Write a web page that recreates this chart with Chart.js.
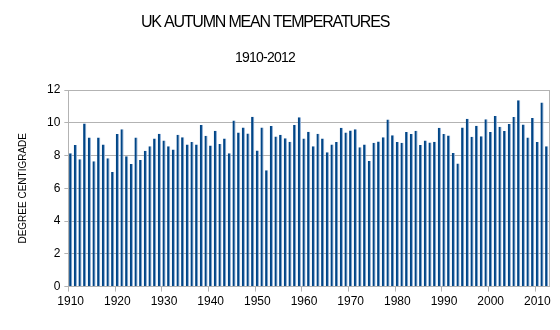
<!DOCTYPE html>
<html>
<head>
<meta charset="utf-8">
<title>UK Autumn Mean Temperatures</title>
<script src="https://cdn.jsdelivr.net/npm/chart.js@4/dist/chart.umd.min.js"></script>
<style>
  html, body { margin: 0; padding: 0; background: #fff; }
  #wrap { width: 560px; height: 330px; position: relative; }
</style>
</head>
<body>
<div id="wrap"><canvas id="autumnChart"></canvas></div>
<script>
// one bar per autumn, 1910 .. 2012
var years = Array.from({ length: 103 }, function (_, i) { return String(1910 + i); });

var meanTemps = [
  8.14, 8.65, 7.78, 9.96, 9.10, 7.65, 9.10, 8.67, 7.84, 7.00,
  9.31, 9.61, 7.96, 7.49, 9.10, 7.73, 8.29, 8.57, 9.04, 9.33,
  8.92, 8.57, 8.37, 9.27, 9.12, 8.67, 8.82, 8.67, 9.86, 9.20,
  8.61, 9.51, 8.71, 9.04, 8.14, 10.14, 9.41, 9.71, 9.35, 10.37,
  8.31, 9.71, 7.10, 9.80, 9.16, 9.27, 9.06, 8.84, 9.86, 10.33,
  9.04, 9.45, 8.57, 9.33, 9.04, 8.20, 8.67, 8.82, 9.69, 9.41,
  9.53, 9.61, 8.51, 8.67, 7.67, 8.78, 8.86, 9.12, 10.20, 9.24,
  8.82, 8.78, 9.43, 9.31, 9.51, 8.65, 8.92, 8.80, 8.84, 9.69,
  9.31, 9.22, 8.16, 7.51, 9.71, 10.24, 9.14, 9.82, 9.18, 10.22,
  9.43, 10.41, 9.76, 9.49, 9.92, 10.35, 11.37, 9.90, 9.10, 10.29,
  8.82, 11.24, 8.57
];

var labelledYears = ['1910', '1920', '1930', '1940', '1950', '1960', '1970', '1980', '1990', '2000', '2010'];
var yTicks = [0, 2, 4, 6, 8, 10, 12];

var chartTitle = 'UK AUTUMN MEAN TEMPERATURES';
var chartSubtitle = '1910-2012';

var gridGrey = '#b3b3b3';
var fontFamily = '"Liberation Sans", Arial, sans-serif';

// heading lines, set a little tighter than the canvas default
var headings = {
  id: 'headings',
  afterDraw: function (chart) {
    var c = chart.ctx;
    c.save();
    c.fillStyle = '#000';
    c.textAlign = 'center';
    c.textBaseline = 'alphabetic';
    c.font = '16px ' + fontFamily;
    c.letterSpacing = '-1.2px';
    c.fillText(chartTitle, 265, 27);
    c.font = '14px ' + fontFamily;
    c.letterSpacing = '-0.8px';
    c.fillText(chartSubtitle, 265, 62);
    c.restore();
  }
};

// closes the plot frame on the right hand side
var frameRight = {
  id: 'frameRight',
  afterDraw: function (chart) {
    var a = chart.chartArea, c = chart.ctx;
    c.save();
    c.strokeStyle = gridGrey;
    c.lineWidth = 1;
    c.beginPath();
    c.moveTo(Math.round(a.right) + 0.5, a.top);
    c.lineTo(Math.round(a.right) + 0.5, a.bottom);
    c.stroke();
    c.restore();
  }
};

Chart.defaults.font.family = fontFamily;
Chart.defaults.color = '#000';

var ctx = document.getElementById('autumnChart').getContext('2d');
var autumnChart = new Chart(ctx, {
  type: 'bar',
  data: {
    labels: years,
    datasets: [{
      label: 'Autumn mean',
      data: meanTemps,
      backgroundColor: '#004586',
      borderColor: '#86a9d3',
      borderWidth: { top: 0, right: 1, bottom: 0, left: 0 },
      borderSkipped: false,
      barPercentage: 0.68,
      categoryPercentage: 1.0
    }]
  },
  options: {
    responsive: true,
    maintainAspectRatio: false,
    animation: false,
    layout: { padding: { left: 17, right: 11, top: 90, bottom: 18 } },
    plugins: {
      legend: { display: false },
      tooltip: { enabled: false },
      title: { display: false },
      subtitle: { display: false }
    },
    scales: {
      x: {
        grid: {
          offset: true,
          drawOnChartArea: false,
          tickLength: 5,
          color: function (c) {
            var y = years[c.index];
            return labelledYears.indexOf(y) >= 0 ? gridGrey : 'rgba(0,0,0,0)';
          }
        },
        border: { color: gridGrey },
        ticks: {
          autoSkip: false,
          maxRotation: 0,
          padding: 3,
          font: { size: 12 },
          callback: function (val, i) {
            return labelledYears.indexOf(years[i]) >= 0 ? years[i] : '';
          }
        }
      },
      y: {
        min: yTicks[0],
        max: yTicks[yTicks.length - 1],
        grid: { color: gridGrey, tickLength: 4 },
        border: { color: gridGrey },
        ticks: { stepSize: 2, padding: 4, font: { size: 12 } },
        title: {
          display: true,
          text: 'DEGREE CENTIGRADE',
          font: { size: 10 },
          padding: { top: 0, bottom: 14 }
        }
      }
    }
  },
  plugins: [headings, frameRight]
});
</script>
</body>
</html>
